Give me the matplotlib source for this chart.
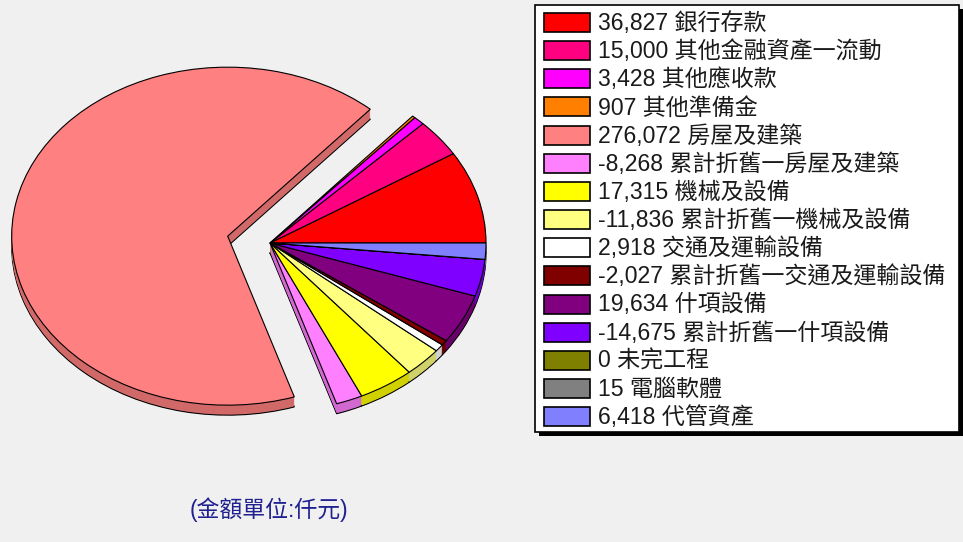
import matplotlib
matplotlib.use('Agg')
import matplotlib.pyplot as plt
from matplotlib.patches import Rectangle
from matplotlib.colors import to_rgb
import numpy as np

plt.rcParams['font.family'] = ['Liberation Sans', 'Noto Sans CJK TC', 'DejaVu Sans']

# data (thousand NTD)
labels = ['銀行存款', '其他金融資產一流動', '其他應收款', '其他準備金', '房屋及建築',
          '累計折舊一房屋及建築', '機械及設備', '累計折舊一機械及設備', '交通及運輸設備',
          '累計折舊一交通及運輸設備', '什項設備', '累計折舊一什項設備', '未完工程',
          '電腦軟體', '代管資產']
values = [36827, 15000, 3428, 907, 276072, -8268, 17315, -11836, 2918,
          -2027, 19634, -14675, 0, 15, 6418]
colors = ['#ff0000', '#ff0080', '#ff00ff', '#ff8000', '#ff8080', '#ff80ff', '#ffff00',
          '#ffff80', '#ffffff', '#800000', '#800080', '#8000ff', '#808000', '#808080',
          '#8080ff']
footnote = '(金額單位:仟元)'

W, H = 963, 542
bg = '#f0f0f0'
fig = plt.figure(figsize=(W / 100, H / 100), dpi=100, facecolor=bg)

# pie axes: 1 data unit = 216 px wide, 169 px tall, centre at (270, 243) px
rx, ry, cx, cy = 216.0, 169.0, 270.0, 243.0
ax = fig.add_axes([0, 0, 530 / W, 1])
ax.set_facecolor(bg)
vals = np.abs(values)
explode = [0.2 if v == max(vals) else 0 for v in vals]
side_colors = [tuple(c * 0.82 for c in to_rgb(col)) for col in colors]

depth = 10
for k in range(depth, 0, -1):
    ax.pie(vals, colors=side_colors, startangle=0, counterclock=True, explode=explode,
           center=(0, -k / ry), frame=True,
           wedgeprops=dict(linewidth=0.8 if k == depth else 0, edgecolor='black'))
ax.pie(vals, colors=colors, startangle=0, counterclock=True, explode=explode,
       center=(0, 0), frame=True, wedgeprops=dict(linewidth=0.8, edgecolor='black'))
ax.set_aspect('auto')
ax.set_xlim(-cx / rx, (530 - cx) / rx)
ax.set_ylim(-(H - cy) / ry, cy / ry)
ax.axis('off')

# legend drawn in pixel coordinates
lg = fig.add_axes([0, 0, 1, 1])
lg.set_xlim(0, W)
lg.set_ylim(H, 0)
lg.axis('off')
lg.patch.set_alpha(0)
bx0, by0, bx1, by1 = 535, 5, 959, 432
lg.add_patch(Rectangle((bx0 + 4, by0 + 4), bx1 - bx0, by1 - by0, facecolor='black', edgecolor='none'))
lg.add_patch(Rectangle((bx0, by0), bx1 - bx0, by1 - by0, facecolor='white', edgecolor='black', linewidth=1.2))
row0, dy = 22.5, 28.15
for i, (lab, val, col) in enumerate(zip(labels, values, colors)):
    y = row0 + i * dy
    lg.add_patch(Rectangle((544, y - 9.5), 46, 19, facecolor=col, edgecolor='black', linewidth=1.2))
    lg.text(598, y + 1, f'{val:,} {lab}', fontsize=16.6, va='center', ha='left', color='#1a1a1a')

lg.text(269, 510, footnote, fontsize=16.5, va='center', ha='center', color='#202090')

fig.savefig('out.png', dpi=100, facecolor=bg)
